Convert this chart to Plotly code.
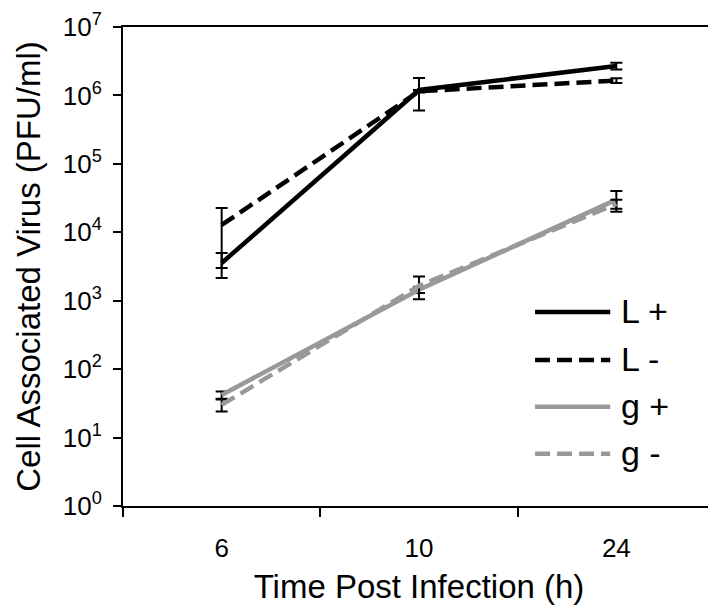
import plotly.graph_objects as go

# ---- data ----
times = ["6", "10", "24"]
series_names = ["L +", "L -", "g +", "g -"]
L_plus = [3560, 1.2e6, 2.7e6]
L_plus_err = [1420, 0.6e6, 0.3e6]
L_minus = [12800, 1.15e6, 1.65e6]
L_minus_err = [9800, 0.05e6, 0.13e6]
g_plus = [42, 1450, 30000]
g_plus_err = [5, 150, 10000]
g_minus = [30, 1650, 26000]
g_minus_err = [6, 600, 4000]
y_tick_vals = [1, 10, 100, 1e3, 1e4, 1e5, 1e6, 1e7]
y_tick_text = ["10<sup>0</sup>", "10<sup>1</sup>", "10<sup>2</sup>", "10<sup>3</sup>",
               "10<sup>4</sup>", "10<sup>5</sup>", "10<sup>6</sup>", "10<sup>7</sup>"]

values = [L_plus, L_minus, g_plus, g_minus]
errors = [L_plus_err, L_minus_err, g_plus_err, g_minus_err]
colors = ["black", "black", "#999999", "#999999"]
dashes = ["solid", "15px,7px", "solid", "15px,7px"]

FONT = "Liberation Sans, Arial, sans-serif"

fig = go.Figure()
for name, v, e, c, d in zip(series_names, values, errors, colors, dashes):
    fig.add_trace(go.Scatter(
        x=times, y=v, name=name, mode="lines",
        line=dict(color=c, width=4.5, dash=d),
        error_y=dict(type="data", array=e, visible=True, color="black",
                     thickness=2, width=6),
        showlegend=False,
    ))

# manual legend (longer sample lines like the reference)
leg_y = [0.405, 0.305, 0.207, 0.109]
for name, c, d, yy in zip(series_names, colors, dashes, leg_y):
    fig.add_shape(type="line", xref="paper", yref="paper",
                  x0=0.696, x1=0.823, y0=yy, y1=yy,
                  line=dict(color=c, width=4.5, dash=d))
    fig.add_annotation(xref="paper", yref="paper", x=0.838, y=yy,
                       text=name, showarrow=False, xanchor="left",
                       yanchor="middle", yshift=1,
                       font=dict(family=FONT, size=34, color="black"))

fig.update_layout(
    width=716, height=611,
    margin=dict(l=115, r=9, t=19, b=113, autoexpand=False),
    plot_bgcolor="white", paper_bgcolor="white",
    font=dict(family=FONT, color="black"),
)
fig.update_xaxes(
    type="category", range=[-0.5, 2.5], tickson="boundaries",
    automargin=False,
    showline=True, linecolor="black", linewidth=2, mirror=True,
    ticks="outside", ticklen=9, tickwidth=2, tickcolor="black",
    showgrid=False, zeroline=False,
    tickfont=dict(family=FONT, size=26, color="black"),
    ticklabelstandoff=18,
    title=dict(text="Time Post Infection (h)", standoff=13,
               font=dict(family=FONT, size=33, color="black")),
)
fig.update_yaxes(
    type="log", range=[0, 7], automargin=False,
    tickvals=y_tick_vals, ticktext=y_tick_text,
    showline=True, linecolor="black", linewidth=2, mirror=True,
    ticks="outside", ticklen=8, tickwidth=2, tickcolor="black",
    showgrid=False, zeroline=False,
    tickfont=dict(family=FONT, size=26, color="black"),
    ticklabelstandoff=6,
    title=dict(text="Cell Associated Virus (PFU/ml)", standoff=12,
               font=dict(family=FONT, size=33, color="black")),
)

fig.write_html("out.html")
